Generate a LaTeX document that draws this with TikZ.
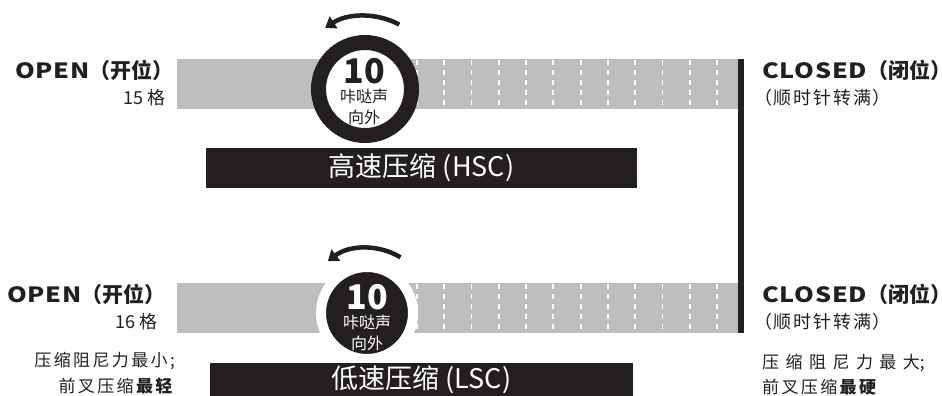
\documentclass[tikz,border=0pt]{standalone}
\usepackage{fontspec}
\setmainfont{Noto Sans CJK SC}
\usetikzlibrary{arrows.meta, calc}
\definecolor{gris}{HTML}{BCBEC0}
\definecolor{negro}{HTML}{231F20}
\newcommand{\espaciado}[2]{{\addfontfeature{LetterSpace=#1}#2}}
\newcommand{\ancho}[1]{{\addfontfeature{FakeStretch=1.2,LetterSpace=4}#1}}

\begin{document}
\begin{tikzpicture}[x=1pt, y=-1pt,
  >={Triangle[length=10pt, width=14pt]},
  barra/.style={fill=gris, minimum width=561pt, minimum height=50pt, inner sep=0pt},
  rotulo/.style={fill=negro, text=white, minimum width=431pt, minimum height=40pt,
    inner sep=0pt, font=\fontsize{27}{30}\selectfont},
  ranura/.style={white, line width=1.8pt, dash pattern=on 5pt off 5pt},
  giro/.style={->, negro, line width=4.5pt},
  titulo/.style={font=\bfseries\fontsize{21}{24}\selectfont, text=negro, inner sep=0pt},
  sub/.style={font=\fontsize{18}{22}\selectfont, text=negro, inner sep=0pt},
  nota/.style={font=\fontsize{17}{20}\selectfont\addfontfeature{LetterSpace=14},
    text=negro, inner sep=0pt},
  num/.style={font=\bfseries\fontsize{34}{34}\selectfont, inner sep=0pt},
  clic/.style={font=\fontsize{16}{21}\selectfont, inner sep=0pt, align=center}]

  \useasboundingbox (0,0) rectangle (942,396);

  % barras de ajuste
  \node[barra] (barH) at (457.5,84) {};
  \node[barra] (barL) at (457.5,308) {};
  \foreach \i in {0,...,11} {
    \draw[ranura] (417+27.27*\i,60) -- ++(0,48);
    \draw[ranura] (417+27.27*\i,284) -- ++(0,48);
  }
  \draw[negro, line width=6pt] ([xshift=3pt]barH.north east) -- ([xshift=3pt]barL.south east);

  % dial alta velocidad
  \node[circle, draw=negro, fill=white, line width=15pt, minimum size=93pt, inner sep=0pt]
    (dialH) at (365,89) {};
  \node[num, text=negro] (diezH) at (364,71) {10};
  \node[clic, text=negro] (clicH) at (364,107) {咔哒声\\向外};
  \draw[giro] ($(dialH.center)+(-62:73)$) arc[start angle=-62, end angle=-123, radius=73];
  \node[rotulo] (hsc) at (421.5,168) {高速压缩 (HSC)};

  % dial baja velocidad
  \node[circle, fill=negro, draw=white, line width=10pt, minimum size=92pt, inner sep=0pt]
    (dialL) at (367,313) {};
  \node[num, text=white] (diezL) at (367,297) {10};
  \node[clic, text=white] (clicL) at (367,333) {咔哒声\\向外};
  \draw[giro] ($(dialL.center)+(-59:65)$) arc[start angle=-59, end angle=-127, radius=65];
  \node[rotulo, minimum width=423pt, minimum height=33pt, anchor=north] (lsc) at (421.5,363)
    {低速压缩 (LSC)};

  % textos laterales
  \node[titulo, anchor=base east] (openH) at (174,78) {\ancho{OPEN}（开位）};
  \node[sub, anchor=base east] (vueltasH) at (166,104) {15 格};
  \node[titulo, anchor=base west] (closedH) at (762,78) {\ancho{CLOSED}（闭位）\hspace{-9pt}};
  \node[sub, anchor=base west] (horarioH) at (754,104) {\espaciado{10}{（顺时针转满）}};

  \node[titulo, anchor=base east] (openL) at (166,302) {\ancho{OPEN}（开位）};
  \node[sub, anchor=base east] (vueltasL) at (158,328) {16 格};
  \node[titulo, anchor=base west] (closedL) at (762,302) {\ancho{CLOSED}（闭位）\hspace{-9pt}};
  \node[sub, anchor=base west] (horarioL) at (754,328) {\espaciado{10}{（顺时针转满）}};

  % notas de amortiguación
  \node[nota, anchor=base east] (minL) at (175,366) {压缩阻尼力最小;};
  \node[nota, anchor=base east] (blandoL) at (175,392) {前叉压缩\textbf{最轻}};
  \node[nota, anchor=base west] (maxC) at (762,368) {\espaciado{38}{压缩阻尼力最大};};
  \node[nota, anchor=base west] (duroC) at (762,393) {前叉压缩\textbf{最硬}};
\end{tikzpicture}
\end{document}
